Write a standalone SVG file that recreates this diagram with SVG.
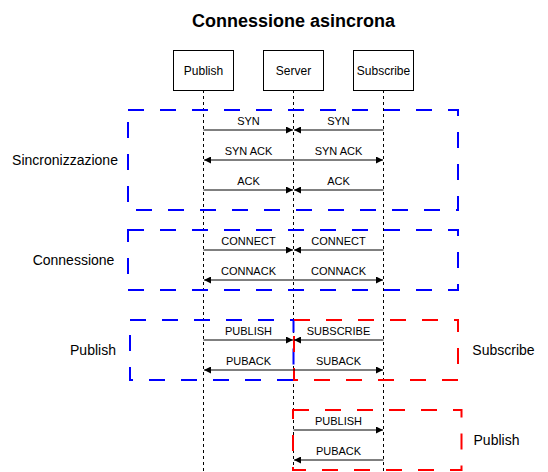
<svg xmlns="http://www.w3.org/2000/svg" width="548" height="472" viewBox="0 0 548 472">
<defs>
<marker id="ah" viewBox="0 0 10 10" refX="10" refY="5" markerWidth="8" markerHeight="7" markerUnits="userSpaceOnUse" orient="auto">
<path d="M0,0 L10,5 L0,10 z" fill="#000"/>
</marker>
<style>
text{font-family:"Liberation Sans",Arial,sans-serif;fill:#000}
.t{font-size:18px;font-weight:bold;text-anchor:middle}
.box{fill:#fff;stroke:#000;stroke-width:1}
.bl{font-size:12px;text-anchor:middle}
.life{stroke:#000;stroke-width:1;stroke-dasharray:3 3;fill:none}
.frame{fill:none;stroke-width:2;stroke-dasharray:16 16}
.blue{stroke:#0000FF}
.red{stroke:#FF0000}
.side{font-size:14px;text-anchor:middle}
.msg{stroke:#000;stroke-width:1;fill:none;marker-end:url(#ah)}
.ml{font-size:11px;text-anchor:middle}
</style>
</defs>
<rect width="548" height="472" fill="#fff"/>
<text class="t" x="293.5" y="27">Connessione asincrona</text>

<g id="lifelines">
<line class="life" x1="203.5" y1="90" x2="203.5" y2="472"/>
<line class="life" x1="293.5" y1="90" x2="293.5" y2="472"/>
<line class="life" x1="383.5" y1="90" x2="383.5" y2="472"/>
</g>

<g id="node-publish"><rect class="box" x="173.5" y="50.5" width="60" height="40"/><text class="bl" x="203.5" y="74.5">Publish</text></g>
<g id="node-server"><rect class="box" x="263.5" y="50.5" width="60" height="40"/><text class="bl" x="293.5" y="74.5">Server</text></g>
<g id="node-subscribe"><rect class="box" x="353.5" y="50.5" width="60" height="40"/><text class="bl" x="383.5" y="74.5">Subscribe</text></g>

<g id="frame-sincronizzazione"><rect class="frame blue" x="128" y="110" width="330" height="100"/><text class="side" x="65" y="165">Sincronizzazione</text></g>
<g id="frame-connessione"><rect class="frame blue" x="128" y="230" width="330" height="60"/><text class="side" x="73.5" y="265">Connessione</text></g>
<g id="frame-publish"><rect class="frame blue" x="130" y="320" width="163.5" height="60"/><text class="side" x="93" y="355">Publish</text></g>
<g id="frame-subscribe"><rect class="frame red" x="294" y="320" width="164" height="60"/><text class="side" x="503.5" y="355">Subscribe</text></g>
<g id="frame-publish2"><rect class="frame red" x="293" y="410" width="168.5" height="60"/><text class="side" x="496.5" y="445">Publish</text></g>

<g id="connectors">
<line class="msg" x1="203.5" y1="130" x2="293" y2="130"/><text class="ml" x="248.5" y="125">SYN</text>
<line class="msg" x1="383.5" y1="130" x2="294" y2="130"/><text class="ml" x="338.5" y="125">SYN</text>
<line class="msg" x1="293.5" y1="160" x2="204" y2="160"/><text class="ml" x="248.5" y="155">SYN ACK</text>
<line class="msg" x1="293.5" y1="160" x2="383" y2="160"/><text class="ml" x="338.5" y="155">SYN ACK</text>
<line class="msg" x1="203.5" y1="190" x2="293" y2="190"/><text class="ml" x="248.5" y="185">ACK</text>
<line class="msg" x1="383.5" y1="190" x2="294" y2="190"/><text class="ml" x="338.5" y="185">ACK</text>

<line class="msg" x1="203.5" y1="250" x2="293" y2="250"/><text class="ml" x="248.5" y="245">CONNECT</text>
<line class="msg" x1="383.5" y1="250" x2="294" y2="250"/><text class="ml" x="338.5" y="245">CONNECT</text>
<line class="msg" x1="293.5" y1="280" x2="204" y2="280"/><text class="ml" x="248.5" y="275">CONNACK</text>
<line class="msg" x1="293.5" y1="280" x2="383" y2="280"/><text class="ml" x="338.5" y="275">CONNACK</text>

<line class="msg" x1="203.5" y1="340" x2="293" y2="340"/><text class="ml" x="248.5" y="335">PUBLISH</text>
<line class="msg" x1="383.5" y1="340" x2="294" y2="340"/><text class="ml" x="338.5" y="335">SUBSCRIBE</text>
<line class="msg" x1="293.5" y1="370" x2="204" y2="370"/><text class="ml" x="248.5" y="365">PUBACK</text>
<line class="msg" x1="293.5" y1="370" x2="383" y2="370"/><text class="ml" x="338.5" y="365">SUBACK</text>

<line class="msg" x1="293.5" y1="430" x2="383" y2="430"/><text class="ml" x="338.5" y="425">PUBLISH</text>
<line class="msg" x1="383.5" y1="460" x2="294" y2="460"/><text class="ml" x="338.5" y="455">PUBACK</text>
</g>
</svg>
